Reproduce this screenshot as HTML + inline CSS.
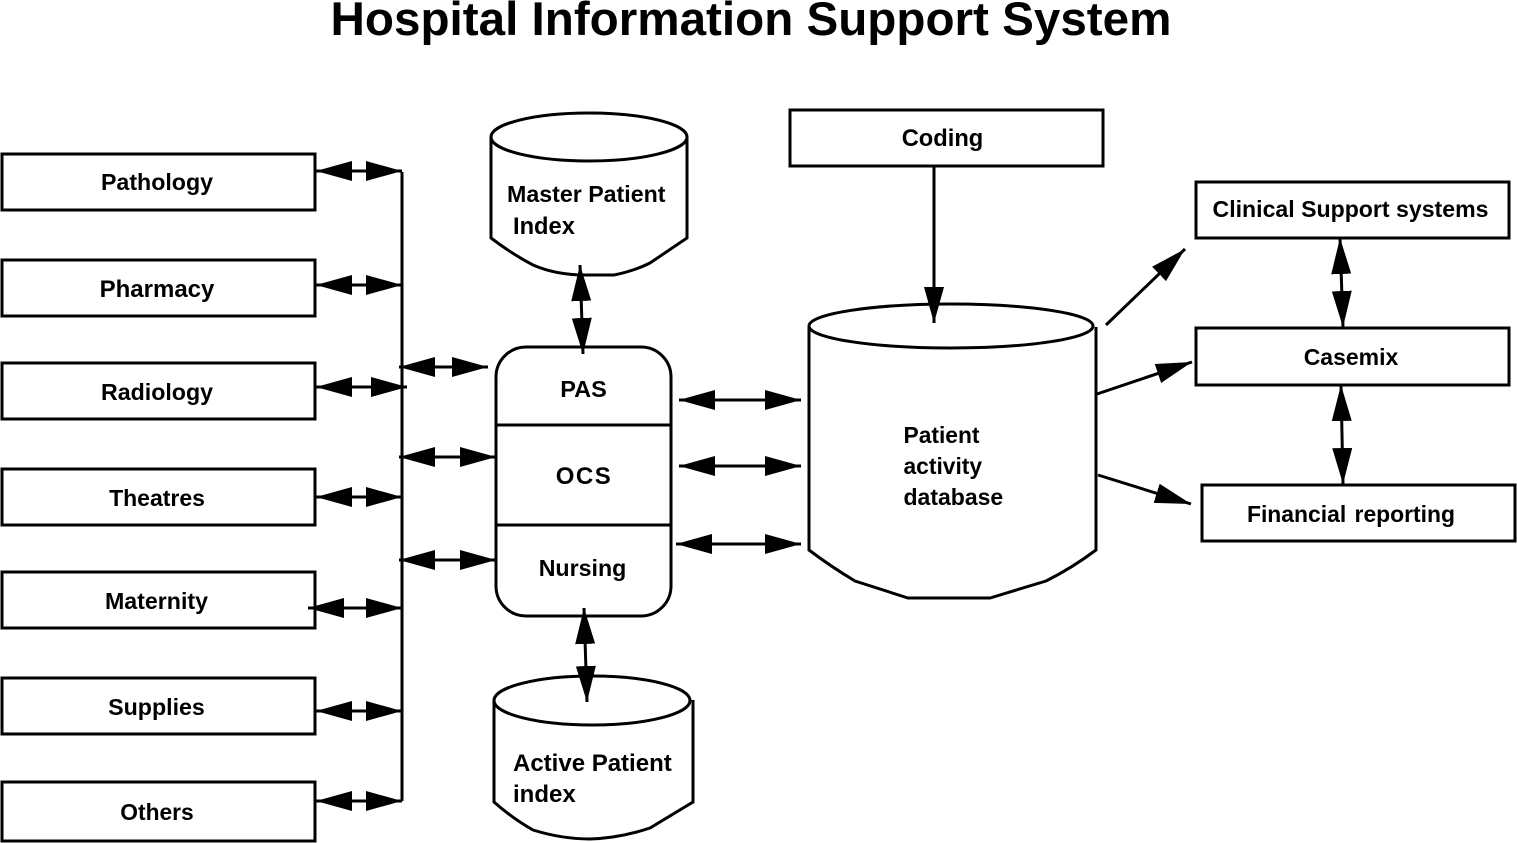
<!DOCTYPE html>
<html><head><meta charset="utf-8">
<style>html,body{margin:0;padding:0;background:#fff}svg{display:block}text{font-family:"Liberation Sans",Arial,sans-serif;font-weight:bold;fill:#000;font-size:23.2px}</style>
</head><body>
<svg width="1517" height="843" viewBox="0 0 1517 843" xmlns="http://www.w3.org/2000/svg">
<defs>
<marker id="a" viewBox="0 0 36 24" refX="36" refY="12" markerWidth="36" markerHeight="24" markerUnits="userSpaceOnUse" orient="auto-start-reverse"><path d="M0 2L36 12L0 22Z" fill="#000"/></marker>
</defs>
<text x="751" y="35" text-anchor="middle" style="font-size:47.6px">Hospital Information Support System</text>
<g fill="#fff" stroke="#000" stroke-width="3">
<rect x="2" y="154" width="313" height="56"/><rect x="2" y="260" width="313" height="56"/><rect x="2" y="363" width="313" height="56"/><rect x="2" y="469" width="313" height="56"/><rect x="2" y="572" width="313" height="56"/><rect x="2" y="678" width="313" height="56"/><rect x="2" y="782" width="313" height="59"/>
<rect x="790" y="110" width="313" height="56"/><rect x="1196" y="182" width="313" height="56"/><rect x="1196" y="328" width="313" height="57"/><rect x="1202" y="485" width="313" height="56"/>
<path d="M491 137V238Q512 254 533 265Q556 275 585 275H614Q634 271 650 263L687 238V137"/><ellipse cx="589" cy="137" rx="98" ry="24"/>
<path d="M494 700V802Q512 818 533 830Q562 839 590 839Q620 838 650 828L693 802V700"/><ellipse cx="592" cy="700.5" rx="98" ry="24.5"/>
<path d="M809 327V550Q830 566 855 581L908 598H990L1046 581Q1072 568 1096 550V327"/><ellipse cx="951" cy="326" rx="142" ry="22"/>
<rect x="496" y="347" width="175" height="269" rx="30"/>
</g>
<g fill="none" stroke="#000" stroke-width="3">
<path d="M496 425H671M496 525H671M402 172V801"/>
</g>
<g fill="none" stroke="#000" stroke-width="3" marker-start="url(#a)" marker-end="url(#a)">
<path d="M316 171H402"/><path d="M316 285H402"/><path d="M316 387H407"/><path d="M316 497H402"/><path d="M308 608H402"/><path d="M316 711H402"/><path d="M316 801H402"/>
<path d="M399 367H488"/><path d="M399 457H496"/><path d="M399 560H496"/>
<path d="M679 400H801"/><path d="M679 466H801"/><path d="M676 544H801"/>
<path d="M580 265L583 354"/><path d="M584 608L587 702"/>
<path d="M1340 238L1343 327"/><path d="M1341 385L1343 484"/>
</g>
<g fill="none" stroke="#000" stroke-width="3" marker-end="url(#a)">
<path d="M934 166V323"/><path d="M1106 325L1185 249"/><path d="M1097 394L1192 362"/><path d="M1098 475L1191 504"/>
</g>
<g text-anchor="middle">
<text x="157" y="190">Pathology</text><text x="157" y="297" style="font-size:24px">Pharmacy</text><text x="157" y="400">Radiology</text><text x="157" y="506" style="font-size:23px">Theatres</text><text x="156.500" y="609">Maternity</text><text x="156.500" y="715">Supplies</text><text x="157" y="820" style="font-size:22.800px">Others</text>
<text x="942.500" y="146" style="font-size:23.700px">Coding</text><text x="1350.500" y="217" style="font-size:23.100px">Clinical Support systems</text><text x="1351" y="365" style="font-size:23px">Casemix</text><text x="1351" y="522" style="font-size:22.900px;word-spacing:2px">Financial reporting</text>
<text x="583.500" y="397" style="font-size:23.500px">PAS</text><text x="584" y="484" style="font-size:24px;letter-spacing:1.5px">OCS</text><text x="582.500" y="576">Nursing</text>
</g>
<text x="507" y="202">Master Patient</text><text x="513" y="234" style="font-size:23.700px">Index</text>
<text x="513" y="771" style="font-size:24px">Active Patient</text><text x="513" y="802" style="font-size:24px">index</text>
<text x="903.500" y="443" style="font-size:22.800px">Patient</text><text x="903.500" y="474" style="font-size:22.800px">activity</text><text x="903.500" y="505" style="font-size:23px">database</text>
</svg>
</body></html>
